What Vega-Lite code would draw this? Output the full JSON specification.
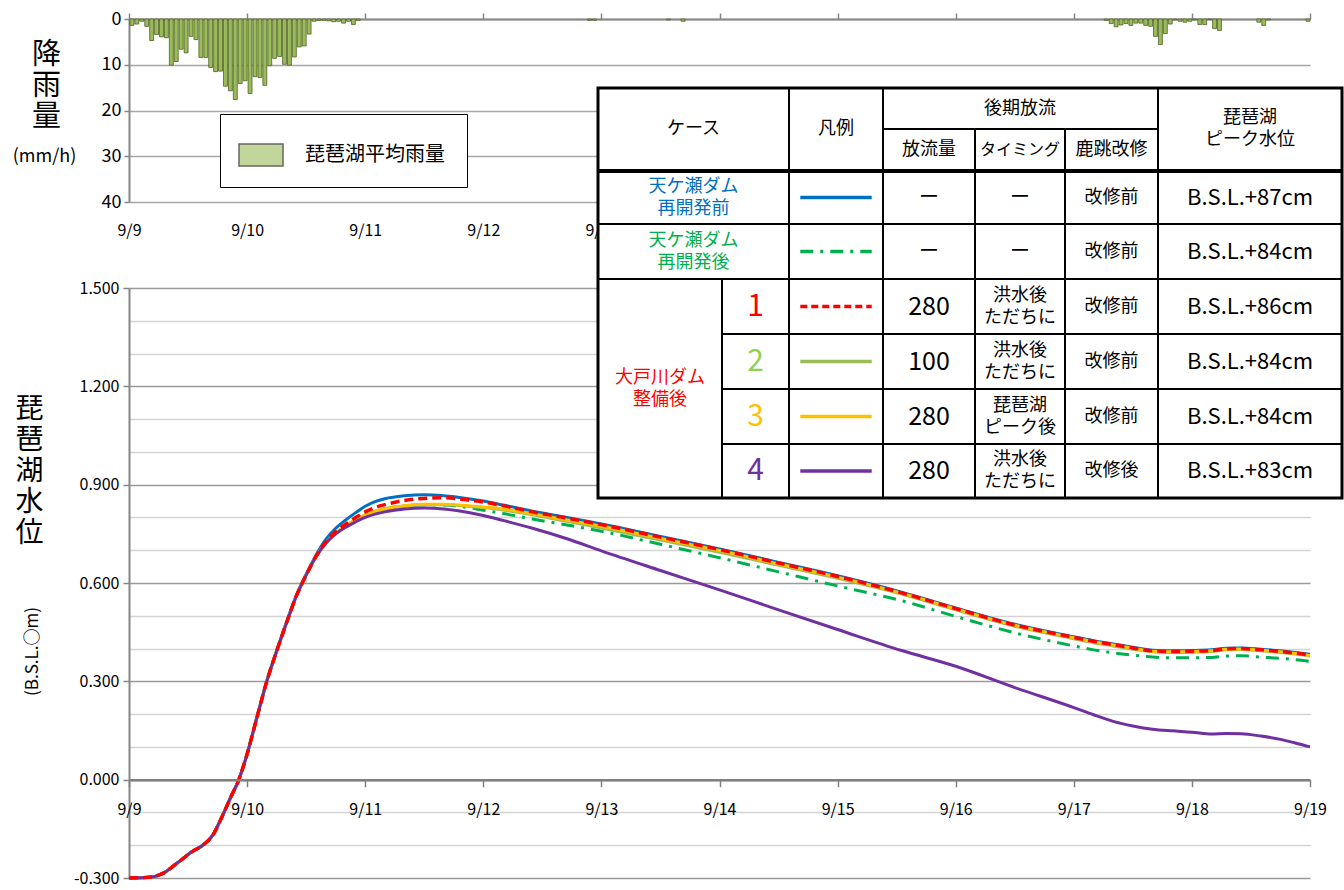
{
  "$schema": "https://vega.github.io/schema/vega-lite/v6.json",
  "padding": {"left": 12, "top": 10, "right": 0, "bottom": 5},
  "background": "white",
  "bounds": "flush",
  "spacing": 86,
  "config": {
    "font": "Noto Sans CJK JP",
    "view": {"stroke": null},
    "axis": {"labelColor": "#000", "titleColor": "#000", "titleFontWeight": "normal", "labelFont": "Noto Sans CJK JP", "titleFont": "Noto Sans CJK JP"}
  },
  "datasets": {
    "rain": [
      {"t": "2013/09/09 00:00", "r": 1.4}, {"t": "2013/09/09 01:00", "r": 1.1}, {"t": "2013/09/09 02:00", "r": 0.5}, {"t": "2013/09/09 03:00", "r": 1.6},
      {"t": "2013/09/09 04:00", "r": 4.7}, {"t": "2013/09/09 05:00", "r": 3.4}, {"t": "2013/09/09 06:00", "r": 3.9}, {"t": "2013/09/09 07:00", "r": 4.1},
      {"t": "2013/09/09 08:00", "r": 10.1}, {"t": "2013/09/09 09:00", "r": 9.3}, {"t": "2013/09/09 10:00", "r": 6.6}, {"t": "2013/09/09 11:00", "r": 7.4},
      {"t": "2013/09/09 12:00", "r": 3.8}, {"t": "2013/09/09 13:00", "r": 4.5}, {"t": "2013/09/09 14:00", "r": 8.4}, {"t": "2013/09/09 15:00", "r": 8.4},
      {"t": "2013/09/09 16:00", "r": 10.6}, {"t": "2013/09/09 17:00", "r": 11.5}, {"t": "2013/09/09 18:00", "r": 11.4}, {"t": "2013/09/09 19:00", "r": 14.7},
      {"t": "2013/09/09 20:00", "r": 15.7}, {"t": "2013/09/09 21:00", "r": 17.6}, {"t": "2013/09/09 22:00", "r": 14.1}, {"t": "2013/09/09 23:00", "r": 13.5},
      {"t": "2013/09/10 00:00", "r": 16.3}, {"t": "2013/09/10 01:00", "r": 12.6}, {"t": "2013/09/10 02:00", "r": 12.8}, {"t": "2013/09/10 03:00", "r": 14.5},
      {"t": "2013/09/10 04:00", "r": 10.2}, {"t": "2013/09/10 05:00", "r": 8.6}, {"t": "2013/09/10 06:00", "r": 8.2}, {"t": "2013/09/10 07:00", "r": 9.9},
      {"t": "2013/09/10 08:00", "r": 10.1}, {"t": "2013/09/10 09:00", "r": 8.3}, {"t": "2013/09/10 10:00", "r": 6.1}, {"t": "2013/09/10 11:00", "r": 5.9},
      {"t": "2013/09/10 12:00", "r": 3.3}, {"t": "2013/09/10 13:00", "r": 0.5}, {"t": "2013/09/10 14:00", "r": 0.3}, {"t": "2013/09/10 15:00", "r": 0.3},
      {"t": "2013/09/10 16:00", "r": 0.4}, {"t": "2013/09/10 17:00", "r": 0.6}, {"t": "2013/09/10 18:00", "r": 0.5}, {"t": "2013/09/10 19:00", "r": 0.9},
      {"t": "2013/09/10 20:00", "r": 0.5}, {"t": "2013/09/10 21:00", "r": 1.2}, {"t": "2013/09/10 22:00", "r": 0.3},
      {"t": "2013/09/12 21:00", "r": 0.3}, {"t": "2013/09/12 22:00", "r": 0.3},
      {"t": "2013/09/13 13:00", "r": 0.2}, {"t": "2013/09/13 16:00", "r": 0.5},
      {"t": "2013/09/17 06:00", "r": 0.3}, {"t": "2013/09/17 07:00", "r": 1.0}, {"t": "2013/09/17 08:00", "r": 1.7}, {"t": "2013/09/17 09:00", "r": 1.3},
      {"t": "2013/09/17 10:00", "r": 1.0}, {"t": "2013/09/17 11:00", "r": 1.4}, {"t": "2013/09/17 12:00", "r": 0.9}, {"t": "2013/09/17 13:00", "r": 0.9},
      {"t": "2013/09/17 14:00", "r": 1.4}, {"t": "2013/09/17 15:00", "r": 1.6}, {"t": "2013/09/17 16:00", "r": 3.8}, {"t": "2013/09/17 17:00", "r": 5.6},
      {"t": "2013/09/17 18:00", "r": 3.2}, {"t": "2013/09/17 19:00", "r": 1.1}, {"t": "2013/09/17 20:00", "r": 0.2}, {"t": "2013/09/17 21:00", "r": 0.5},
      {"t": "2013/09/17 22:00", "r": 0.7}, {"t": "2013/09/17 23:00", "r": 0.5}, {"t": "2013/09/18 00:00", "r": 0.2}, {"t": "2013/09/18 01:00", "r": 1.2},
      {"t": "2013/09/18 02:00", "r": 1.2}, {"t": "2013/09/18 03:00", "r": 0.1}, {"t": "2013/09/18 04:00", "r": 2.1}, {"t": "2013/09/18 05:00", "r": 2.5},
      {"t": "2013/09/18 13:00", "r": 0.7}, {"t": "2013/09/18 14:00", "r": 1.4}, {"t": "2013/09/18 15:00", "r": 0.2}, {"t": "2013/09/18 23:00", "r": 0.5}
    ],
    "level": [
      {"h": 0, "b": -0.3, "g": -0.3, "r": -0.3, "n": -0.3, "o": -0.3, "p": -0.3},
      {"h": 4, "b": -0.298, "g": -0.298, "r": -0.298, "n": -0.298, "o": -0.298, "p": -0.298},
      {"h": 7, "b": -0.285, "g": -0.285, "r": -0.285, "n": -0.285, "o": -0.285, "p": -0.285},
      {"h": 10, "b": -0.252, "g": -0.252, "r": -0.252, "n": -0.252, "o": -0.252, "p": -0.252},
      {"h": 13, "b": -0.218, "g": -0.218, "r": -0.218, "n": -0.218, "o": -0.218, "p": -0.218},
      {"h": 15, "b": -0.2, "g": -0.2, "r": -0.2, "n": -0.2, "o": -0.2, "p": -0.2},
      {"h": 17, "b": -0.17, "g": -0.17, "r": -0.17, "n": -0.17, "o": -0.17, "p": -0.17},
      {"h": 19, "b": -0.11, "g": -0.11, "r": -0.11, "n": -0.11, "o": -0.11, "p": -0.11},
      {"h": 21, "b": -0.043, "g": -0.043, "r": -0.043, "n": -0.043, "o": -0.043, "p": -0.043},
      {"h": 22, "b": -0.012, "g": -0.012, "r": -0.012, "n": -0.012, "o": -0.012, "p": -0.012},
      {"h": 24, "b": 0.078, "g": 0.078, "r": 0.078, "n": 0.078, "o": 0.078, "p": 0.078},
      {"h": 26, "b": 0.19, "g": 0.19, "r": 0.19, "n": 0.19, "o": 0.19, "p": 0.19},
      {"h": 28, "b": 0.3, "g": 0.3, "r": 0.3, "n": 0.3, "o": 0.3, "p": 0.3},
      {"h": 30, "b": 0.393, "g": 0.392, "r": 0.392, "n": 0.392, "o": 0.392, "p": 0.392},
      {"h": 32, "b": 0.48, "g": 0.478, "r": 0.478, "n": 0.478, "o": 0.478, "p": 0.478},
      {"h": 34, "b": 0.562, "g": 0.56, "r": 0.56, "n": 0.56, "o": 0.56, "p": 0.56},
      {"h": 36, "b": 0.627, "g": 0.624, "r": 0.624, "n": 0.624, "o": 0.624, "p": 0.624},
      {"h": 38, "b": 0.685, "g": 0.68, "r": 0.681, "n": 0.68, "o": 0.68, "p": 0.68},
      {"h": 40, "b": 0.733, "g": 0.722, "r": 0.725, "n": 0.722, "o": 0.722, "p": 0.721},
      {"h": 42, "b": 0.767, "g": 0.752, "r": 0.756, "n": 0.752, "o": 0.752, "p": 0.75},
      {"h": 44, "b": 0.792, "g": 0.774, "r": 0.779, "n": 0.774, "o": 0.774, "p": 0.77},
      {"h": 46, "b": 0.814, "g": 0.792, "r": 0.799, "n": 0.792, "o": 0.792, "p": 0.786},
      {"h": 48, "b": 0.834, "g": 0.807, "r": 0.817, "n": 0.807, "o": 0.808, "p": 0.8},
      {"h": 50, "b": 0.848, "g": 0.818, "r": 0.83, "n": 0.818, "o": 0.819, "p": 0.81},
      {"h": 52, "b": 0.857, "g": 0.826, "r": 0.839, "n": 0.826, "o": 0.827, "p": 0.817},
      {"h": 56, "b": 0.866, "g": 0.835, "r": 0.852, "n": 0.835, "o": 0.836, "p": 0.826},
      {"h": 60, "b": 0.869, "g": 0.839, "r": 0.858, "n": 0.839, "o": 0.84, "p": 0.829},
      {"h": 64, "b": 0.866, "g": 0.838, "r": 0.86, "n": 0.839, "o": 0.84, "p": 0.826},
      {"h": 69, "b": 0.857, "g": 0.83, "r": 0.853, "n": 0.834, "o": 0.836, "p": 0.815},
      {"h": 72, "b": 0.85, "g": 0.822, "r": 0.847, "n": 0.83, "o": 0.832, "p": 0.806},
      {"h": 76, "b": 0.838, "g": 0.812, "r": 0.836, "n": 0.823, "o": 0.826, "p": 0.791},
      {"h": 82, "b": 0.819, "g": 0.795, "r": 0.817, "n": 0.808, "o": 0.811, "p": 0.767},
      {"h": 89, "b": 0.8, "g": 0.777, "r": 0.798, "n": 0.788, "o": 0.792, "p": 0.735},
      {"h": 96, "b": 0.78, "g": 0.758, "r": 0.778, "n": 0.768, "o": 0.773, "p": 0.698},
      {"h": 108, "b": 0.742, "g": 0.718, "r": 0.74, "n": 0.731, "o": 0.736, "p": 0.638},
      {"h": 120, "b": 0.704, "g": 0.677, "r": 0.702, "n": 0.694, "o": 0.699, "p": 0.579},
      {"h": 132, "b": 0.663, "g": 0.634, "r": 0.661, "n": 0.654, "o": 0.658, "p": 0.518},
      {"h": 144, "b": 0.622, "g": 0.591, "r": 0.62, "n": 0.614, "o": 0.618, "p": 0.458},
      {"h": 157, "b": 0.572, "g": 0.546, "r": 0.57, "n": 0.566, "o": 0.569, "p": 0.394},
      {"h": 168, "b": 0.524, "g": 0.498, "r": 0.522, "n": 0.518, "o": 0.521, "p": 0.346},
      {"h": 180, "b": 0.474, "g": 0.448, "r": 0.472, "n": 0.468, "o": 0.471, "p": 0.281},
      {"h": 192, "b": 0.436, "g": 0.408, "r": 0.434, "n": 0.43, "o": 0.433, "p": 0.22},
      {"h": 196, "b": 0.424, "g": 0.396, "r": 0.422, "n": 0.418, "o": 0.421, "p": 0.198},
      {"h": 200, "b": 0.414, "g": 0.387, "r": 0.412, "n": 0.408, "o": 0.411, "p": 0.178},
      {"h": 204, "b": 0.404, "g": 0.38, "r": 0.402, "n": 0.398, "o": 0.401, "p": 0.164},
      {"h": 208, "b": 0.395, "g": 0.374, "r": 0.393, "n": 0.39, "o": 0.392, "p": 0.154},
      {"h": 212, "b": 0.393, "g": 0.372, "r": 0.391, "n": 0.388, "o": 0.39, "p": 0.149},
      {"h": 216, "b": 0.394, "g": 0.372, "r": 0.392, "n": 0.389, "o": 0.391, "p": 0.145},
      {"h": 220, "b": 0.396, "g": 0.373, "r": 0.394, "n": 0.391, "o": 0.393, "p": 0.139},
      {"h": 223, "b": 0.401, "g": 0.377, "r": 0.399, "n": 0.396, "o": 0.398, "p": 0.141},
      {"h": 226, "b": 0.402, "g": 0.378, "r": 0.4, "n": 0.397, "o": 0.399, "p": 0.14},
      {"h": 230, "b": 0.398, "g": 0.374, "r": 0.396, "n": 0.393, "o": 0.395, "p": 0.133},
      {"h": 234, "b": 0.393, "g": 0.37, "r": 0.391, "n": 0.388, "o": 0.39, "p": 0.123},
      {"h": 237, "b": 0.388, "g": 0.366, "r": 0.386, "n": 0.383, "o": 0.385, "p": 0.112},
      {"h": 240, "b": 0.383, "g": 0.361, "r": 0.38, "n": 0.377, "o": 0.379, "p": 0.1}
    ],
    "cells": [
      {"c0": 0, "c1": 2, "r0": 0, "r1": 2}, {"c0": 2, "c1": 3, "r0": 0, "r1": 2}, {"c0": 3, "c1": 6, "r0": 0, "r1": 1},
      {"c0": 3, "c1": 4, "r0": 1, "r1": 2}, {"c0": 4, "c1": 5, "r0": 1, "r1": 2}, {"c0": 5, "c1": 6, "r0": 1, "r1": 2}, {"c0": 6, "c1": 7, "r0": 0, "r1": 2},
      {"c0": 0, "c1": 2, "r0": 2, "r1": 3}, {"c0": 2, "c1": 3, "r0": 2, "r1": 3}, {"c0": 3, "c1": 4, "r0": 2, "r1": 3}, {"c0": 4, "c1": 5, "r0": 2, "r1": 3}, {"c0": 5, "c1": 6, "r0": 2, "r1": 3}, {"c0": 6, "c1": 7, "r0": 2, "r1": 3},
      {"c0": 0, "c1": 2, "r0": 3, "r1": 4}, {"c0": 2, "c1": 3, "r0": 3, "r1": 4}, {"c0": 3, "c1": 4, "r0": 3, "r1": 4}, {"c0": 4, "c1": 5, "r0": 3, "r1": 4}, {"c0": 5, "c1": 6, "r0": 3, "r1": 4}, {"c0": 6, "c1": 7, "r0": 3, "r1": 4},
      {"c0": 0, "c1": 1, "r0": 4, "r1": 8},
      {"c0": 1, "c1": 2, "r0": 4, "r1": 5}, {"c0": 2, "c1": 3, "r0": 4, "r1": 5}, {"c0": 3, "c1": 4, "r0": 4, "r1": 5}, {"c0": 4, "c1": 5, "r0": 4, "r1": 5}, {"c0": 5, "c1": 6, "r0": 4, "r1": 5}, {"c0": 6, "c1": 7, "r0": 4, "r1": 5},
      {"c0": 1, "c1": 2, "r0": 5, "r1": 6}, {"c0": 2, "c1": 3, "r0": 5, "r1": 6}, {"c0": 3, "c1": 4, "r0": 5, "r1": 6}, {"c0": 4, "c1": 5, "r0": 5, "r1": 6}, {"c0": 5, "c1": 6, "r0": 5, "r1": 6}, {"c0": 6, "c1": 7, "r0": 5, "r1": 6},
      {"c0": 1, "c1": 2, "r0": 6, "r1": 7}, {"c0": 2, "c1": 3, "r0": 6, "r1": 7}, {"c0": 3, "c1": 4, "r0": 6, "r1": 7}, {"c0": 4, "c1": 5, "r0": 6, "r1": 7}, {"c0": 5, "c1": 6, "r0": 6, "r1": 7}, {"c0": 6, "c1": 7, "r0": 6, "r1": 7},
      {"c0": 1, "c1": 2, "r0": 7, "r1": 8}, {"c0": 2, "c1": 3, "r0": 7, "r1": 8}, {"c0": 3, "c1": 4, "r0": 7, "r1": 8}, {"c0": 4, "c1": 5, "r0": 7, "r1": 8}, {"c0": 5, "c1": 6, "r0": 7, "r1": 8}, {"c0": 6, "c1": 7, "r0": 7, "r1": 8}
    ],
    "frame": [{"c0": 0, "c1": 7, "r0": 0, "r1": 8}],
    "sep": [{"c0": 0, "c1": 7, "r": 2}],
    "samples": [
      {"cy": 2.5, "s": "b"}, {"cy": 3.5, "s": "g"}, {"cy": 4.5, "s": "r"},
      {"cy": 5.5, "s": "n"}, {"cy": 6.5, "s": "o"}, {"cy": 7.5, "s": "p"}
    ],
    "texts": [
      {"cx": 0.77, "cy": 1, "t": "ケース", "k": "h"},
      {"cx": 2.5, "cy": 1, "t": "凡例", "k": "h"},
      {"cx": 4.5, "cy": 0.5, "t": "後期放流", "k": "h"},
      {"cx": 3.5, "cy": 1.5, "t": "放流量", "k": "h"},
      {"cx": 4.5, "cy": 1.5, "t": "タイミング", "k": "hs"},
      {"cx": 5.5, "cy": 1.5, "t": "鹿跳改修", "k": "h"},
      {"cx": 6.5, "cy": 1, "t": "琵琶湖\nピーク水位", "k": "h"},
      {"cx": 0.77, "cy": 2.5, "t": "天ケ瀬ダム\n再開発前", "k": "a"},
      {"cx": 3.5, "cy": 2.5, "t": "ー", "k": "m"},
      {"cx": 4.5, "cy": 2.5, "t": "ー", "k": "m"},
      {"cx": 5.5, "cy": 2.5, "t": "改修前", "k": "j"},
      {"cx": 6.5, "cy": 2.5, "t": "B.S.L.+87cm", "k": "v"},
      {"cx": 0.77, "cy": 3.5, "t": "天ケ瀬ダム\n再開発後", "k": "b"},
      {"cx": 3.5, "cy": 3.5, "t": "ー", "k": "m"},
      {"cx": 4.5, "cy": 3.5, "t": "ー", "k": "m"},
      {"cx": 5.5, "cy": 3.5, "t": "改修前", "k": "j"},
      {"cx": 6.5, "cy": 3.5, "t": "B.S.L.+84cm", "k": "v"},
      {"cx": 0.5, "cy": 6, "t": "大戸川ダム\n整備後", "k": "d"},
      {"cx": 1.5, "cy": 4.5, "t": "1", "k": "n1"},
      {"cx": 3.5, "cy": 4.5, "t": "280", "k": "q"},
      {"cx": 4.5, "cy": 4.5, "t": "洪水後\nただちに", "k": "j"},
      {"cx": 5.5, "cy": 4.5, "t": "改修前", "k": "j"},
      {"cx": 6.5, "cy": 4.5, "t": "B.S.L.+86cm", "k": "v"},
      {"cx": 1.5, "cy": 5.5, "t": "2", "k": "n2"},
      {"cx": 3.5, "cy": 5.5, "t": "100", "k": "q"},
      {"cx": 4.5, "cy": 5.5, "t": "洪水後\nただちに", "k": "j"},
      {"cx": 5.5, "cy": 5.5, "t": "改修前", "k": "j"},
      {"cx": 6.5, "cy": 5.5, "t": "B.S.L.+84cm", "k": "v"},
      {"cx": 1.5, "cy": 6.5, "t": "3", "k": "n3"},
      {"cx": 3.5, "cy": 6.5, "t": "280", "k": "q"},
      {"cx": 4.5, "cy": 6.5, "t": "琵琶湖\nピーク後", "k": "j"},
      {"cx": 5.5, "cy": 6.5, "t": "改修前", "k": "j"},
      {"cx": 6.5, "cy": 6.5, "t": "B.S.L.+84cm", "k": "v"},
      {"cx": 1.5, "cy": 7.5, "t": "4", "k": "n4"},
      {"cx": 3.5, "cy": 7.5, "t": "280", "k": "q"},
      {"cx": 4.5, "cy": 7.5, "t": "洪水後\nただちに", "k": "j"},
      {"cx": 5.5, "cy": 7.5, "t": "改修後", "k": "j"},
      {"cx": 6.5, "cy": 7.5, "t": "B.S.L.+83cm", "k": "v"}
    ]
  },
  "vconcat": [
    {
      "width": 1181,
      "height": 183,
      "data": {"name": "rain"},
      "layer": [
        {
          "mark": {"type": "bar", "stroke": "#4F6228", "strokeWidth": 0.8},
          "encoding": {
            "x": {
              "field": "t", "type": "temporal", "timeUnit": "yearmonthdatehours",
              "scale": {"domain": [{"year": 2013, "month": 9, "date": 9}, {"year": 2013, "month": 9, "date": 19}]},
              "axis": {"orient": "top", "title": null, "labels": false, "grid": false, "tickCount": {"interval": "day", "step": 1}, "tickSize": 6, "tickColor": "#868686", "tickWidth": 1.5, "domainColor": "#868686", "domainWidth": 2}
            },
            "y": {
              "field": "r", "type": "quantitative",
              "scale": {"domain": [0, 40], "reverse": true, "nice": false, "zero": true},
              "axis": {
                "values": [0, 10, 20, 30, 40], "grid": true, "gridColor": "#A6A6A6", "gridWidth": 1.5,
                "domainColor": "#868686", "domainWidth": 2, "tickColor": "#868686", "tickSize": 5, "tickWidth": 1.5,
                "labelFontSize": 18, "labelPadding": 3,
                "title": ["降", "雨", "量"], "titleAngle": 0, "titleFontSize": 29, "titleLineHeight": 31,
                "titleAlign": "center", "titleBaseline": "top", "titleX": -83, "titleY": 21
              }
            },
            "fill": {
              "datum": "琵琶湖平均雨量", "type": "nominal",
              "scale": {"range": ["#9BBB59"]},
              "legend": {
                "title": "　", "titleOrient": "right", "titleFontSize": 22, "titlePadding": 4,
                "orient": "none", "legendX": 91, "legendY": 95,
                "symbolType": "M-1,-0.5H1V0.5H-1Z", "symbolSize": 1936,
                "symbolStrokeWidth": 1.5, "symbolStrokeColor": "#000", "symbolOpacity": 0.6,
                "labelFontSize": 20, "labelOffset": 21, "labelLimit": 300, "labelColor": "#000",
                "padding": 18, "strokeColor": "#000", "fillColor": "#fff", "cornerRadius": 0
              }
            }
          }
        },
        {
          "mark": {"type": "bar", "opacity": 0},
          "encoding": {
            "x": {
              "field": "t", "type": "temporal", "timeUnit": "yearmonthdatehours",
              "scale": {"domain": [{"year": 2013, "month": 9, "date": 9}, {"year": 2013, "month": 9, "date": 19}]},
              "axis": {"orient": "bottom", "title": null, "domain": false, "ticks": false, "tickSize": 0, "grid": false, "labelPadding": 20, "format": "%-m/%-d", "tickCount": {"interval": "day", "step": 1}, "labelFontSize": 16, "labelFlush": false, "labelOverlap": false}
            },
            "y": {
              "field": "r", "type": "quantitative",
              "scale": {"domain": [0, 40], "reverse": true, "nice": false, "zero": true},
              "axis": {
                "orient": "left", "labels": false, "ticks": false, "domain": false, "grid": false,
                "title": "(mm/h)", "titleAngle": 0, "titleX": -85, "titleY": 137,
                "titleAlign": "center", "titleBaseline": "middle", "titleFontSize": 18
              }
            }
          }
        }
      ],
      "resolve": {"axis": {"x": "independent", "y": "independent"}}
    },
    {
      "width": 1181,
      "height": 590,
      "layer": [
        {
          "data": {"name": "level"},
          "layer": [
            {
              "mark": {"type": "line", "color": "#0070C0", "strokeWidth": 3, "interpolate": "monotone"},
              "encoding": {
                "x": {
                  "field": "h", "type": "quantitative",
                  "scale": {"domain": [0, 240], "nice": false, "zero": false},
                  "axis": {
                    "values": [0, 24, 48, 72, 96, 120, 144, 168, 192, 216, 240],
                    "labelExpr": "'9/' + (9 + round(datum.value / 24))",
                    "offset": -98.33, "zindex": 1, "title": null, "grid": false,
                    "tickSize": 7, "tickColor": "#808080", "tickWidth": 1.5,
                    "domainColor": "#808080", "domainWidth": 2.5,
                    "labelPadding": 15, "labelFontSize": 16, "labelFlush": false, "labelOverlap": false
                  }
                },
                "y": {
                  "field": "b", "type": "quantitative",
                  "scale": {"domain": [-0.3, 1.5], "nice": false, "zero": false},
                  "axis": {
                    "values": [-0.3, -0.2, -0.1, 0, 0.1, 0.2, 0.3, 0.4, 0.5, 0.6, 0.7, 0.8, 0.9, 1.0, 1.1, 1.2, 1.3, 1.4, 1.5],
                    "labelExpr": "round(datum.value * 10) % 3 == 0 ? replace(format(datum.value, '.3f'), '−', '-') : ''",
                    "labelFontSize": 16, "labelPadding": 4,
                    "grid": true, "gridWidth": 1.5,
                    "gridColor": {"condition": {"test": "round(datum.value * 10) % 3 == 0", "value": "#9A9A9A"}, "value": "#D4D4D4"},
                    "tickSize": 6, "tickColor": "#868686", "tickWidth": 1.5,
                    "tickOpacity": {"condition": {"test": "round(datum.value * 10) % 3 == 0", "value": 1}, "value": 0},
                    "domainColor": "#868686", "domainWidth": 2,
                    "title": "(B.S.L.○m)", "titleAngle": -90, "titleX": -97, "titleY": 363,
                    "titleAlign": "center", "titleBaseline": "middle", "titleFontSize": 17
                  }
                }
              }
            },
            {
              "mark": {"type": "line", "color": "#00B050", "strokeWidth": 3, "strokeDash": [13, 7, 3, 7], "interpolate": "monotone"},
              "encoding": {
                "x": {"field": "h", "type": "quantitative", "scale": {"domain": [0, 240], "nice": false, "zero": false}},
                "y": {
                  "field": "g", "type": "quantitative",
                  "scale": {"domain": [-0.3, 1.5], "nice": false, "zero": false},
                  "axis": {
                    "orient": "left", "labels": false, "ticks": false, "domain": false, "grid": false,
                    "title": ["琵", "琶", "湖", "水", "位"], "titleAngle": 0, "titleX": -100, "titleY": 107,
                    "titleAlign": "center", "titleBaseline": "top", "titleFontSize": 28, "titleLineHeight": 31
                  }
                }
              }
            },
            {
              "mark": {"type": "line", "color": "#9BBB59", "strokeWidth": 3, "interpolate": "monotone"},
              "encoding": {
                "x": {"field": "h", "type": "quantitative", "scale": {"domain": [0, 240], "nice": false, "zero": false}},
                "y": {"field": "n", "type": "quantitative", "scale": {"domain": [-0.3, 1.5], "nice": false, "zero": false}, "axis": null}
              }
            },
            {
              "mark": {"type": "line", "color": "#FFC000", "strokeWidth": 3, "interpolate": "monotone"},
              "encoding": {
                "x": {"field": "h", "type": "quantitative", "scale": {"domain": [0, 240], "nice": false, "zero": false}},
                "y": {"field": "o", "type": "quantitative", "scale": {"domain": [-0.3, 1.5], "nice": false, "zero": false}, "axis": null}
              }
            },
            {
              "mark": {"type": "line", "color": "#7030A0", "strokeWidth": 3, "interpolate": "monotone"},
              "encoding": {
                "x": {"field": "h", "type": "quantitative", "scale": {"domain": [0, 240], "nice": false, "zero": false}},
                "y": {"field": "p", "type": "quantitative", "scale": {"domain": [-0.3, 1.5], "nice": false, "zero": false}, "axis": null}
              }
            },
            {
              "mark": {"type": "line", "color": "#FF0000", "strokeWidth": 3.5, "strokeDash": [9, 5], "interpolate": "monotone"},
              "encoding": {
                "x": {"field": "h", "type": "quantitative", "scale": {"domain": [0, 240], "nice": false, "zero": false}},
                "y": {"field": "r", "type": "quantitative", "scale": {"domain": [-0.3, 1.5], "nice": false, "zero": false}, "axis": null}
              }
            }
          ],
          "resolve": {"axis": {"y": "independent"}}
        },
        {
          "layer": [
            {
              "data": {"name": "cells"},
              "mark": {"type": "rect", "fill": "#fff", "stroke": "#000", "strokeWidth": 2},
              "encoding": {
                "x": {"field": "c0", "type": "quantitative", "scale": {"domain": [0, 1, 2, 3, 4, 5, 6, 7], "range": [469, 593, 660, 754, 846, 936, 1029, 1213], "nice": false, "zero": false}, "axis": null},
                "x2": {"field": "c1"},
                "y": {"field": "r0", "type": "quantitative", "scale": {"domain": [0, 1, 2, 3, 4, 5, 6, 7, 8], "range": [-200, -159, -117, -64, -9, 46, 101, 156, 210], "nice": false, "zero": false}, "axis": null},
                "y2": {"field": "r1"}
              }
            },
            {
              "data": {"name": "sep"},
              "mark": {"type": "rule", "stroke": "#000", "strokeWidth": 4},
              "encoding": {
                "x": {"field": "c0", "type": "quantitative", "scale": {"domain": [0, 1, 2, 3, 4, 5, 6, 7], "range": [469, 593, 660, 754, 846, 936, 1029, 1213], "nice": false, "zero": false}, "axis": null},
                "x2": {"field": "c1"},
                "y": {"field": "r", "type": "quantitative", "scale": {"domain": [0, 1, 2, 3, 4, 5, 6, 7, 8], "range": [-200, -159, -117, -64, -9, 46, 101, 156, 210], "nice": false, "zero": false}, "axis": null}
              }
            },
            {
              "data": {"name": "frame"},
              "mark": {"type": "rect", "fill": null, "fillOpacity": 0, "stroke": "#000", "strokeWidth": 3},
              "encoding": {
                "x": {"field": "c0", "type": "quantitative", "scale": {"domain": [0, 1, 2, 3, 4, 5, 6, 7], "range": [469, 593, 660, 754, 846, 936, 1029, 1213], "nice": false, "zero": false}, "axis": null},
                "x2": {"field": "c1"},
                "y": {"field": "r0", "type": "quantitative", "scale": {"domain": [0, 1, 2, 3, 4, 5, 6, 7, 8], "range": [-200, -159, -117, -64, -9, 46, 101, 156, 210], "nice": false, "zero": false}, "axis": null},
                "y2": {"field": "r1"}
              }
            },
            {
              "data": {"name": "samples"},
              "mark": {"type": "rule", "strokeWidth": 3.5, "strokeCap": "butt"},
              "encoding": {
                "x": {"datum": 2.12, "type": "quantitative", "scale": {"domain": [0, 1, 2, 3, 4, 5, 6, 7], "range": [469, 593, 660, 754, 846, 936, 1029, 1213], "nice": false, "zero": false}, "axis": null},
                "x2": {"datum": 2.88},
                "y": {"field": "cy", "type": "quantitative", "scale": {"domain": [0, 1, 2, 3, 4, 5, 6, 7, 8], "range": [-200, -159, -117, -64, -9, 46, 101, 156, 210], "nice": false, "zero": false}, "axis": null},
                "stroke": {"field": "s", "type": "nominal", "scale": {"domain": ["b", "g", "r", "n", "o", "p"], "range": ["#0070C0", "#00B050", "#FF0000", "#9BBB59", "#FFC000", "#7030A0"]}, "legend": null},
                "strokeDash": {"field": "s", "type": "nominal", "scale": {"domain": ["b", "g", "r", "n", "o", "p"], "range": [[1, 0], [13, 7, 3, 7], [7, 4], [1, 0], [1, 0], [1, 0]]}, "legend": null}
              }
            },
            {
              "data": {"name": "texts"},
              "transform": [{"filter": "indexof(datum.t, '\\n') < 0"}],
              "mark": {"type": "text", "baseline": "middle", "align": "center"},
              "encoding": {
                "x": {"field": "cx", "type": "quantitative", "scale": {"domain": [0, 1, 2, 3, 4, 5, 6, 7], "range": [469, 593, 660, 754, 846, 936, 1029, 1213], "nice": false, "zero": false}, "axis": null},
                "y": {"field": "cy", "type": "quantitative", "scale": {"domain": [0, 1, 2, 3, 4, 5, 6, 7, 8], "range": [-200, -159, -117, -64, -9, 46, 101, 156, 210], "nice": false, "zero": false}, "axis": null},
                "text": {"field": "t"},
                "color": {"field": "k", "type": "nominal", "scale": {"domain": ["h", "hs", "a", "b", "d", "n1", "n2", "n3", "n4", "q", "m", "j", "v"], "range": ["#000000", "#000000", "#0070C0", "#00B050", "#FF0000", "#FF0000", "#92D050", "#FFC000", "#7030A0", "#000000", "#000000", "#000000", "#000000"]}, "legend": null},
                "size": {"field": "k", "type": "nominal", "scale": {"type": "ordinal", "domain": ["h", "hs", "a", "b", "d", "n1", "n2", "n3", "n4", "q", "m", "j", "v"], "range": [18, 16, 18, 18, 18, 30, 30, 30, 30, 25, 20, 18, 22]}, "legend": null}
              }
            },
            {
              "data": {"name": "texts"},
              "transform": [{"filter": "indexof(datum.t, '\\n') >= 0"}],
              "mark": {"type": "text", "lineBreak": "\n", "lineHeight": 22, "baseline": "middle", "align": "center", "dy": -11},
              "encoding": {
                "x": {"field": "cx", "type": "quantitative", "scale": {"domain": [0, 1, 2, 3, 4, 5, 6, 7], "range": [469, 593, 660, 754, 846, 936, 1029, 1213], "nice": false, "zero": false}, "axis": null},
                "y": {"field": "cy", "type": "quantitative", "scale": {"domain": [0, 1, 2, 3, 4, 5, 6, 7, 8], "range": [-200, -159, -117, -64, -9, 46, 101, 156, 210], "nice": false, "zero": false}, "axis": null},
                "text": {"field": "t"},
                "color": {"field": "k", "type": "nominal", "scale": {"domain": ["h", "hs", "a", "b", "d", "n1", "n2", "n3", "n4", "q", "m", "j", "v"], "range": ["#000000", "#000000", "#0070C0", "#00B050", "#FF0000", "#FF0000", "#92D050", "#FFC000", "#7030A0", "#000000", "#000000", "#000000", "#000000"]}, "legend": null},
                "size": {"field": "k", "type": "nominal", "scale": {"type": "ordinal", "domain": ["h", "hs", "a", "b", "d", "n1", "n2", "n3", "n4", "q", "m", "j", "v"], "range": [18, 16, 18, 18, 18, 30, 30, 30, 30, 25, 20, 18, 22]}, "legend": null}
              }
            }
          ]
        }
      ],
      "resolve": {"scale": {"x": "independent", "y": "independent"}}
    }
  ]
}
